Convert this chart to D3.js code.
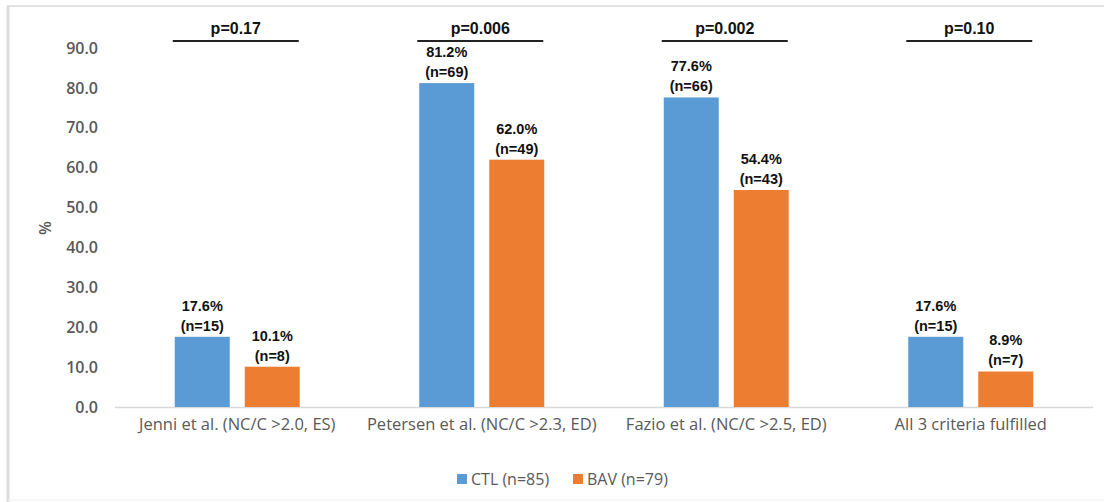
<!DOCTYPE html>
<html>
<head>
<meta charset="utf-8">
<script src="https://cdn.jsdelivr.net/npm/d3@7"></script>
<style>
  html, body { margin: 0; padding: 0; background: #fff; }
  svg { display: block; }
</style>
</head>
<body>
<svg id="chart" width="1104" height="502"></svg>
<script>
// Categories (criteria) and the two groups
const categories = [
  "Jenni et al. (NC/C >2.0, ES)",
  "Petersen et al. (NC/C >2.3, ED)",
  "Fazio et al. (NC/C >2.5, ED)",
  "All 3 criteria fulfilled"
];
const seriesNames = ["CTL (n=85)", "BAV (n=79)"];
const ctlValues = [17.6, 81.2, 77.6, 17.6];
const ctlCounts = [15, 69, 66, 15];
const bavValues = [10.1, 62.0, 54.4, 8.9];
const bavCounts = [8, 49, 43, 7];
const pValues = ["p=0.17", "p=0.006", "p=0.002", "p=0.10"];
const yTicks = [0, 10, 20, 30, 40, 50, 60, 70, 80, 90];

const colors = ["#5B9BD5", "#ED7D31"];
const grayText = "#595959";

const svg = d3.select("#chart");

// outer frame
svg.append("line").attr("x1", 7).attr("x2", 1104).attr("y1", 6).attr("y2", 6)
  .attr("stroke", "#e2e2e2").attr("stroke-width", 2);
svg.append("line").attr("x1", 8).attr("x2", 8).attr("y1", 6).attr("y2", 502)
  .attr("stroke", "#dcdcdc").attr("stroke-width", 3);
svg.append("line").attr("x1", 8).attr("x2", 1104).attr("y1", 500).attr("y2", 500)
  .attr("stroke", "#f0f0f0").attr("stroke-width", 1);

const plot = { left: 115, right: 1093, top: 48, bottom: 407 };

const x0 = d3.scaleBand().domain(categories).range([plot.left, plot.right]).paddingInner(0).paddingOuter(0);
const x1 = d3.scaleBand().domain([0, 1]).range([0, 125]).paddingInner(15 / 70);
const y = d3.scaleLinear().domain([0, 90]).range([plot.bottom, plot.top]);

// y axis tick labels
const yAxis = d3.axisLeft(y).tickValues(yTicks).tickFormat(d3.format(".1f")).tickSize(0).tickPadding(0);
const yg = svg.append("g").attr("transform", `translate(98,0)`).call(yAxis);
yg.select(".domain").remove();
yg.selectAll("text")
  .attr("font-family", "'Open Sans', sans-serif")
  .attr("font-size", 16)
  .attr("font-weight", 600)
  .attr("fill", grayText);

// y axis title
svg.append("text")
  .attr("transform", "translate(51,228) rotate(-90)")
  .attr("text-anchor", "middle")
  .attr("font-family", "'Open Sans', sans-serif")
  .attr("font-size", 16)
  .attr("font-weight", 600)
  .attr("fill", grayText)
  .text("%");

// baseline
svg.append("line")
  .attr("x1", plot.left).attr("x2", plot.right)
  .attr("y1", y(0) + 0.5).attr("y2", y(0) + 0.5)
  .attr("stroke", "#d9d9d9").attr("stroke-width", 1.5);

// category labels
const xAxis = d3.axisBottom(x0).tickSize(0).tickPadding(0);
const xg = svg.append("g").attr("transform", `translate(0,${y(0) + 17})`).call(xAxis);
xg.select(".domain").remove();
xg.selectAll("text")
  .attr("dy", "0.35em")
  .attr("font-family", "'Open Sans', sans-serif")
  .attr("font-size", 16.5)
  .attr("fill", grayText);

const rows = categories.map((c, i) => ({
  cat: c,
  vals: [
    { s: 0, v: ctlValues[i], n: ctlCounts[i] },
    { s: 1, v: bavValues[i], n: bavCounts[i] }
  ],
  p: pValues[i]
}));

const groups = svg.selectAll("g.cat").data(rows).join("g")
  .attr("class", "cat")
  .attr("transform", d => `translate(${x0(d.cat) + x0.bandwidth() / 2 - 62.5},0)`);

// bars
groups.selectAll("rect").data(d => d.vals).join("rect")
  .attr("x", d => x1(d.s))
  .attr("width", x1.bandwidth())
  .attr("y", d => y(d.v))
  .attr("height", d => y(0) - y(d.v))
  .attr("fill", d => colors[d.s]);

// value labels
const lbl = groups.selectAll("text.val").data(d => d.vals).join("text")
  .attr("class", "val")
  .attr("text-anchor", "middle")
  .attr("font-family", "'Liberation Sans', Arial, sans-serif")
  .attr("font-weight", "bold")
  .attr("font-size", 14.5)
  .attr("fill", "#111");
lbl.append("tspan")
  .attr("x", d => x1(d.s) + x1.bandwidth() / 2)
  .attr("y", d => y(d.v) - 26)
  .text(d => d3.format(".1f")(d.v) + "%");
lbl.append("tspan")
  .attr("x", d => x1(d.s) + x1.bandwidth() / 2)
  .attr("y", d => y(d.v) - 6)
  .text(d => `(n=${d.n})`);

// p-value brackets
groups.append("line")
  .attr("x1", -2).attr("x2", 124)
  .attr("y1", 41).attr("y2", 41)
  .attr("stroke", "#222").attr("stroke-width", 2.2);
groups.append("text")
  .attr("x", 61).attr("y", 34)
  .attr("text-anchor", "middle")
  .attr("font-family", "'Liberation Sans', Arial, sans-serif")
  .attr("font-weight", "bold")
  .attr("font-size", 16)
  .attr("fill", "#111")
  .text(d => d.p);

// legend
const legend = svg.append("g").attr("transform", "translate(457,474)");
const legX = [0, 116];
seriesNames.forEach((name, i) => {
  const g = legend.append("g").attr("transform", `translate(${legX[i]},0)`);
  g.append("rect").attr("width", 10).attr("height", 10).attr("y", 0).attr("fill", colors[i]);
  g.append("text").attr("x", 14).attr("y", 5).attr("dy", "0.35em")
    .attr("font-family", "'Open Sans', sans-serif")
    .attr("font-size", 16)
    .attr("fill", grayText)
    .text(name);
});
</script>
</body>
</html>
